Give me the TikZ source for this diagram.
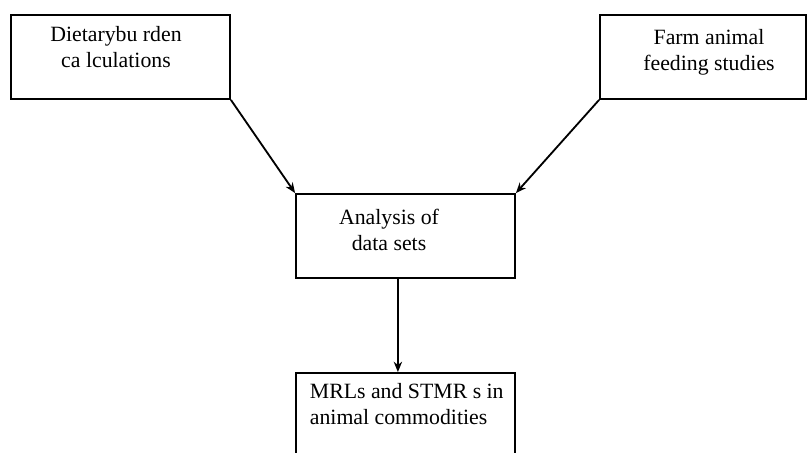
\documentclass[tikz,border=0pt]{standalone}
\usepackage{fontspec}
\setmainfont{Liberation Serif}
\usetikzlibrary{arrows.meta}
\begin{document}
\begin{tikzpicture}[>={Stealth[length=2.6mm,width=2.1mm]}, line width=1.3pt]
\clip (0,0) rectangle (20.2,11.325);
\tikzset{box/.style={draw, rectangle, minimum width=5.475cm, minimum height=2.1cm},
         boxtext/.style={inner sep=0pt, font=\fontsize{15.5}{18.5}\selectfont}}
\node[box] (db) at (3.0125,9.9) {};
\node[box, minimum width=5.15cm] (fs) at (17.575,9.9) {};
\node[box] (ana) at (10.1375,5.425) {};
\node[box] (mrl) at (10.1375,0.95) {};
\node[boxtext, anchor=north, align=center] (dbtext) at (2.9,10.7) {Dietarybu rden\\ca lculations};
\node[boxtext, anchor=north, align=center] (fstext) at (17.725,10.625) {Farm animal\\feeding studies};
\node[boxtext, anchor=north, align=center] (anatext) at (9.725,6.125) {Analysis of\\data sets};
\node[boxtext, anchor=north west, align=left] (mrltext) at (7.725,1.775) {MRLs and STMR s in\\animal commodities};
\draw[->] (db.south east) -- (ana.north west);
\draw[->] (fs.south west) -- (ana.north east);
\draw[->] ([xshift=-0.19cm]ana.south) -- ([xshift=-0.19cm]mrl.north);
\end{tikzpicture}
\end{document}
